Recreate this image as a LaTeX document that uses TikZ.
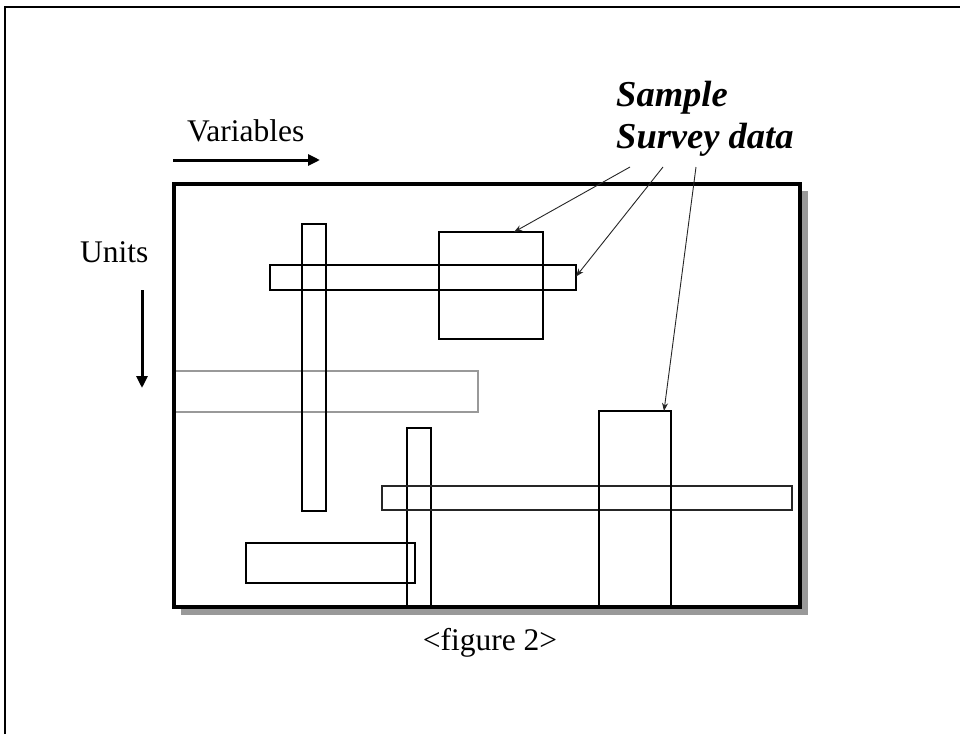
\documentclass[tikz,border=0pt]{standalone}
\usepackage{fontspec}
\setmainfont{Liberation Serif}
\usetikzlibrary{arrows.meta}
\begin{document}
\begin{tikzpicture}[x=1pt,y=-1pt,
  box/.style={draw=black,line width=2.5pt,inner sep=0pt,outer sep=0pt,anchor=north west,rectangle},
  faintbox/.style={box,draw=black!40,line width=1.8pt},
  txt/.style={font=\fontsize{31.5}{36}\selectfont,inner sep=0pt},
  bitxt/.style={font=\fontsize{36.5}{40}\selectfont\bfseries\itshape,inner sep=0pt},
  bigarrow/.style={line width=3pt,-{Triangle[length=12pt,width=11pt]}},
  pointer/.style={line width=0.9pt,black!85,-{Stealth[length=8pt,width=6pt]}}]
\useasboundingbox (0,0) rectangle (960,734);
% outer frame (only top and left visible)
\draw[line width=2.6pt] (5,734) -- (5,7) -- (960,7);
% main panel with shadow
\fill[black!40] (181,191) rectangle (808,615);
\node[box,fill=white,line width=4.5pt,minimum width=626pt,minimum height=423pt] (panel) at (174,184) {};
% inner rectangles
\node[faintbox,minimum width=304pt,minimum height=41pt] (r4) at (174,371) {};
\node[box,minimum width=24pt,minimum height=287pt] (r1) at (302,224) {};
\node[box,minimum width=306pt,minimum height=25pt] (r2) at (270,265) {};
\node[box,minimum width=104pt,minimum height=107pt] (r3) at (439,232) {};
\node[box,minimum width=24pt,minimum height=179pt] (r5) at (407,428) {};
\node[box,draw=black!85,line width=2.1pt,minimum width=410pt,minimum height=24pt] (r6) at (382,486) {};
\node[box,minimum width=72pt,minimum height=196pt] (r7) at (599,411) {};
\node[box,minimum width=169pt,minimum height=40pt] (r8) at (246,543) {};
% redraw panel border on top
\draw[line width=4.5pt] (panel.north west) rectangle (panel.south east);
% texts
\node[txt,anchor=base west] (vars) at (187,141) {Variables};
\node[txt,anchor=base west] (units) at (80,262) {Units};
\node[txt,anchor=base] (fig) at (490,650) {<figure 2>};
\node[bitxt,anchor=base west] (sample) at (616,106) {Sample};
\node[bitxt,anchor=base west] (survey) at (616,148) {Survey data};
% direction arrows
\coordinate (va) at (173,160);
\coordinate (vb) at (320,160);
\draw[bigarrow] (va) -- (vb);
\coordinate (ua) at (142,290);
\coordinate (ub) at (142,388);
\draw[bigarrow] (ua) -- (ub);
% pointers
\coordinate (p1) at (630,167);
\coordinate (p2) at (663,167);
\coordinate (p3) at (696,167);
\draw[pointer] (p1) -- ([xshift=23pt]r3.north);
\draw[pointer] (p2) -- ([yshift=1pt]r2.east);
\draw[pointer] (p3) -- ([xshift=29pt]r7.north);
\end{tikzpicture}
\end{document}
